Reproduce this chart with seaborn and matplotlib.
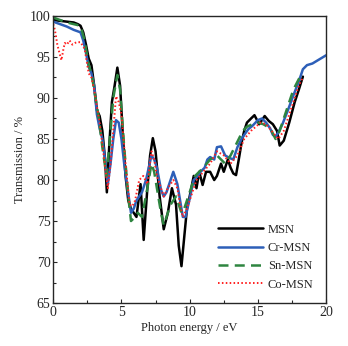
import numpy as np
import pandas as pd
import matplotlib
matplotlib.use('Agg')
import matplotlib.pyplot as plt
import seaborn as sns

## values
msn_x = [0, 0.5, 1, 1.5, 1.8, 2.0, 2.2, 2.4, 2.6, 2.8, 3.0, 3.2, 3.4, 3.6, 3.8, 3.93,
         4.1, 4.3, 4.5, 4.7, 4.9, 5.1, 5.3, 5.5, 5.7, 5.9, 6.1, 6.4, 6.63, 6.9, 7.1,
         7.3, 7.5, 7.8, 8.1, 8.4, 8.7, 9.0, 9.2, 9.4, 9.6, 9.8, 10.0, 10.3, 10.5,
         10.7, 10.95, 11.2, 11.5, 11.8, 12.0, 12.3, 12.5, 12.8, 13.0, 13.2, 13.4,
         13.6, 13.8, 14.0, 14.2, 14.5, 14.75, 15.1, 15.5, 15.8, 16.1, 16.4, 16.6,
         16.9, 17.3, 17.7, 18.0, 18.3]
msn_y = [99.5, 99.4, 99.3, 99.2, 99.0, 98.8, 98.0, 96.5, 94.8, 94.0, 91.5, 88.5, 87.8, 86.0,
         82.5, 78.5, 84.0, 89.5, 91.5, 93.7, 91.5, 85.5, 80.5, 77.5, 76.5, 76.0, 75.5,
         79.5, 72.7, 79.0, 83.0, 85.1, 83.5, 78.0, 74.0, 76.0, 79.0, 77.0, 72.0, 69.5,
         73.0, 76.5, 78.0, 80.5, 79.0, 81.0, 79.4, 81.0, 81.0, 80.0, 80.5, 82.0,
         81.0, 82.5, 81.5, 80.8, 80.6, 82.5, 84.5, 86.0, 87.0, 87.5, 87.9, 86.8,
         87.8, 87.2, 86.8, 86.0, 84.2, 84.8, 87.0, 89.5, 91.0, 92.6]

cr_x = [0, 0.5, 1, 1.5, 2.0, 2.2, 2.4, 2.6, 2.8, 3.0, 3.2, 3.4, 3.6, 3.8, 4.0, 4.2, 4.4,
        4.6, 4.8, 5.0, 5.2, 5.4, 5.7, 5.9, 6.1, 6.3, 6.5, 6.8, 7.0, 7.2, 7.4, 7.6,
        7.9, 8.1, 8.3, 8.5, 8.8, 9.1, 9.3, 9.5, 9.7, 9.9, 10.1, 10.3, 10.6, 10.8,
        11.1, 11.3, 11.5, 11.8, 12.0, 12.3, 12.6, 12.9, 13.2, 13.5, 13.8, 14.0,
        14.3, 14.6, 15.0, 15.3, 15.6, 15.9, 16.1, 16.3, 16.5, 16.8, 17.2, 17.6,
        18.0, 18.3, 18.6, 19.0, 19.3, 19.6, 20.0]
cr_y = [99.3, 99.0, 98.7, 98.3, 98.0, 97.0, 95.5, 93.8, 93.0, 91.5, 88.0, 86.3, 85.0,
        82.5, 79.5, 82.0, 85.0, 87.3, 87.0, 85.0, 82.0, 79.5, 76.0, 76.5, 77.5, 78.0,
        78.5, 80.0, 81.5, 83.0, 82.5, 81.5, 78.8, 78.0, 78.5, 79.5, 81.0, 79.5, 77.5,
        75.5, 75.5, 77.0, 78.5, 80.0, 80.5, 81.0, 81.5, 82.5, 82.8, 82.5, 84.0, 84.1,
        83.0, 82.7, 82.5, 84.0, 85.0, 85.5, 86.2, 86.6, 87.3, 87.5, 87.0, 86.3, 85.5,
        85.3, 85.8, 86.8, 88.5, 90.3, 92.0, 93.5, 94.0, 94.2, 94.5, 94.8, 95.2]

sn_x = [0, 0.5, 1, 1.5, 2.0, 2.3, 2.6, 2.8, 3.0, 3.3, 3.6, 3.9, 4.1, 4.4, 4.7, 4.9, 5.2,
        5.5, 5.7, 6.0, 6.2, 6.5, 6.9, 7.2, 7.4, 7.6, 7.9, 8.1, 8.4, 8.6, 9.0, 9.2,
        9.4, 9.6, 9.8, 10.1, 10.4, 10.7, 11.0, 11.5, 12.0, 12.3, 12.6, 13.0, 13.3,
        13.6, 13.9, 14.2, 14.6, 15.0, 15.4, 15.7, 16.0, 16.3, 16.6, 17.0, 17.3,
        17.6, 18.0, 18.3]
sn_y = [99.8, 99.5, 99.2, 99.0, 98.8, 97.0, 94.0, 93.0, 91.0, 88.0, 84.0, 80.5, 84.0,
        90.0, 92.8, 91.0, 84.0, 78.0, 75.0, 75.5, 76.0, 75.5, 79.0, 82.0, 81.0, 79.0,
        76.0, 74.5, 76.0, 77.0, 78.0, 77.0, 76.0, 76.5, 77.5, 79.0, 80.5, 81.0, 81.5,
        82.5, 83.0, 82.5, 82.0, 83.0, 84.0, 85.0, 86.0, 86.5, 86.8, 87.0, 86.8, 86.5,
        86.0, 85.0, 86.0, 88.0, 89.5, 91.0, 92.3, 93.0]

co_x = [0, 0.12, 0.3, 0.45, 0.6, 0.75, 0.85, 1.0, 1.2, 1.4, 1.7, 2.0, 2.3, 2.6, 2.8,
        3.0, 3.2, 3.4, 3.7, 4.0, 4.2, 4.4, 4.6, 4.8, 5.0, 5.3, 5.6, 5.8, 6.0, 6.3,
        6.6, 6.9, 7.2, 7.4, 7.6, 7.9, 8.1, 8.4, 8.8, 9.1, 9.3, 9.5, 9.8, 10.0, 10.5,
        11.0, 11.5, 12.0, 12.5, 13.0, 13.5, 14.0, 14.5, 15.2, 15.6, 16.0, 16.5,
        16.9, 17.3, 17.7, 18.0, 18.3]
co_y = [99.0, 98.3, 96.5, 95.5, 94.6, 96.0, 96.7, 96.5, 97.0, 96.5, 96.8, 96.8, 96.0,
        93.0, 92.5, 91.0, 89.0, 87.0, 83.0, 79.0, 82.0, 86.0, 90.2, 89.5, 88.0, 82.0,
        77.0, 76.8, 77.5, 80.0, 80.5, 79.5, 83.5, 82.5, 80.5, 79.0, 78.0, 79.0, 80.0,
        79.0, 77.0, 75.5, 76.5, 77.5, 80.0, 81.0, 82.0, 83.5, 83.0, 82.0, 83.0, 85.0,
        86.0, 87.0, 86.8, 86.0, 85.0, 86.0, 88.0, 90.0, 91.5, 92.5]

names = ['MSN', 'Cr-MSN', 'Sn-MSN', 'Co-MSN']
colors = ['#000000', '#2d5fb8', '#2e8540', '#ff2020']

df = pd.concat([
    pd.DataFrame({'x': msn_x, 'y': msn_y, 'name': 'MSN'}),
    pd.DataFrame({'x': cr_x, 'y': cr_y, 'name': 'Cr-MSN'}),
    pd.DataFrame({'x': sn_x, 'y': sn_y, 'name': 'Sn-MSN'}),
    pd.DataFrame({'x': co_x, 'y': co_y, 'name': 'Co-MSN'}),
])

sns.set_style('ticks')
plt.rcParams['font.family'] = ['Liberation Serif', 'DejaVu Serif']
plt.rcParams['xtick.direction'] = 'in'
plt.rcParams['ytick.direction'] = 'in'

fig = plt.figure(figsize=(3.48, 3.46), dpi=100)
ax = fig.add_axes([0.153, 0.124, 0.784, 0.830])

styles = {'MSN': dict(lw=1.8),
          'Cr-MSN': dict(lw=1.8),
          'Sn-MSN': dict(lw=1.8, dashes=(4, 2.5)),
          'Co-MSN': dict(lw=1.4, linestyle=(0, (0.8, 1.2)))}
for n, c in zip(names, colors):
    sub = df[df['name'] == n]
    sns.lineplot(data=sub, x='x', y='y', ax=ax, color=c, label=n,
                 sort=False, estimator=None, **styles[n])

ax.set_xlim(0, 20)
ax.set_ylim(65, 100)
ax.set_xticks([0, 5, 10, 15, 20])
ax.set_xticks([2.5, 7.5, 12.5, 17.5], minor=True)
ax.set_yticks([65, 70, 75, 80, 85, 90, 95, 100])
ax.set_yticks(np.arange(67.5, 100, 5), minor=True)
ax.tick_params(which='major', length=3, width=0.8, labelsize=10, pad=2)
ax.tick_params(which='minor', length=2, width=0.8)
ax.tick_params(top=False, right=False)
for s in ax.spines.values():
    s.set_linewidth(1.0)
ax.set_xlabel('Photon energy / eV', fontsize=9, labelpad=2)
ax.set_ylabel('Transmission / %', fontsize=9, labelpad=3)

ax.legend(loc='lower right', frameon=False, fontsize=9, handlelength=3.6,
          handletextpad=0.4, labelspacing=0.5, borderaxespad=0.6)

fig.savefig('out.png', dpi=100)
